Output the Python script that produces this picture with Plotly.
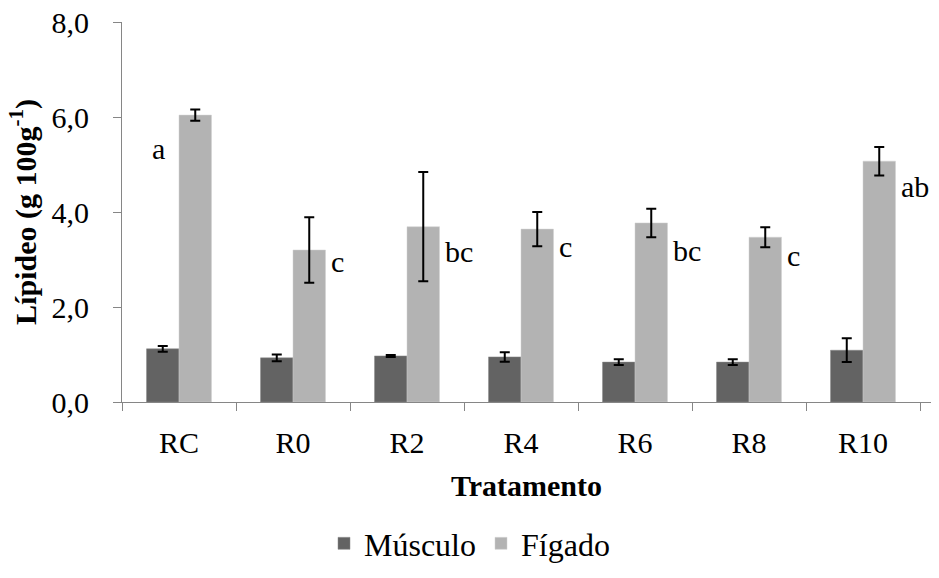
import plotly.graph_objects as go

categories = ["RC", "R0", "R2", "R4", "R6", "R8", "R10"]
musculo = [1.12, 0.93, 0.97, 0.95, 0.84, 0.84, 1.09]
musculo_err = [0.06, 0.07, 0.02, 0.10, 0.06, 0.06, 0.25]
figado = [6.04, 3.20, 3.69, 3.64, 3.77, 3.47, 5.07]
figado_err = [0.12, 0.69, 1.15, 0.36, 0.30, 0.21, 0.30]
letters = ["a", "c", "bc", "c", "bc", "c", "ab"]
letter_y = [5.33, 2.95, 3.16, 3.28, 3.20, 3.09, 4.53]

FONT = "Times New Roman, Liberation Serif, DejaVu Serif, serif"

fig = go.Figure()
fig.add_trace(go.Bar(
    name="Músculo", x=categories, y=musculo,
    marker=dict(color="#636363", line=dict(color="#8a8a8a", width=0.5)),
    error_y=dict(type="data", array=musculo_err, color="black", thickness=2, width=5),
))
fig.add_trace(go.Bar(
    name="Fígado", x=categories, y=figado,
    marker=dict(color="#b3b3b3", line=dict(color="#d0d0d0", width=0.5)),
    error_y=dict(type="data", array=figado_err, color="black", thickness=2, width=5),
))

for i, (cat, lab, ly) in enumerate(zip(categories, letters, letter_y)):
    if i == 0:
        fig.add_annotation(x=cat, y=ly, text=lab, showarrow=False, xanchor="center",
                           xshift=-21, font=dict(family=FONT, size=30, color="black"))
    else:
        fig.add_annotation(x=cat, y=ly, text=lab, showarrow=False, xanchor="left",
                           xshift=36, font=dict(family=FONT, size=30, color="black"))

fig.update_layout(
    width=939, height=578,
    margin=dict(l=122, r=8, t=22, b=176, autoexpand=False),
    paper_bgcolor="white", plot_bgcolor="white",
    separators=",.",
    barmode="group", bargap=0.43, bargroupgap=0,
    font=dict(family=FONT, size=30, color="black"),
    showlegend=True,
    legend=dict(orientation="h", xref="container", x=0.5, xanchor="center",
                y=-0.30, yanchor="top",
                font=dict(family=FONT, size=32, color="black"), itemwidth=30, tracegroupgap=0),
)
fig.update_xaxes(
    automargin=False,
    showline=True, linecolor="#868686", linewidth=1,
    ticks="outside", tickson="boundaries", ticklen=8, tickcolor="#868686",
    tickfont=dict(family=FONT, size=30, color="black"), ticklabelstandoff=14,
    title=dict(text="<b>Tratamento</b>", font=dict(family=FONT, size=30, color="black"), standoff=16),
    showgrid=False,
)
fig.update_yaxes(
    automargin=False,
    range=[0, 8], dtick=2, tickformat=".1f",
    showline=True, linecolor="#868686", linewidth=1,
    ticks="outside", ticklen=8, tickcolor="#868686",
    tickfont=dict(family=FONT, size=30, color="black"), ticklabelstandoff=18,
    title=dict(text="<b>Lípideo (g 100g<sup>-1</sup>)</b>", font=dict(family=FONT, size=30, color="black"), standoff=6),
    showgrid=False, zeroline=False,
)

fig.write_html("out.html")
